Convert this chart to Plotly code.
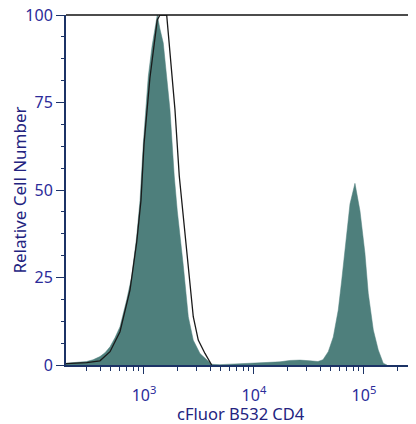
import plotly.graph_objects as go

# Stained sample (filled teal histogram)
stained_x = [195, 244, 301, 344, 398, 442, 491, 545, 605, 696, 773, 858, 920, 986,
             1094, 1183, 1285, 1321, 1397, 1497, 1722, 1884, 2008, 2147, 2277, 2528,
             2806, 3228, 3715, 4124, 4900, 7460, 9200, 11340, 17230, 21220, 26190,
             32300, 38180, 42370, 47330, 52590, 58360, 62660, 67140, 74600, 82800,
             92000, 102000, 109400, 121600, 134900, 149700, 161800]
stained_y = [0.5, 0.7, 1.0, 1.5, 2.4, 3.5, 5.2, 7.8, 10.9, 18.6, 25.2, 36.7, 47, 63.3,
             82.4, 91, 98.6, 100, 96, 92, 73, 54, 44, 36, 28.4, 13.8,
             7.1, 3.3, 1.4, 0.2, 0.1, 0.3, 0.6, 0.5, 0.9, 1.3, 1.4,
             1.2, 1.0, 1.5, 3.8, 8, 15.7, 24, 33.5, 46, 51.9,
             44, 32, 20.5, 10, 4.3, 0.5, 0]

# Control (black outline histogram)
control_x = [195, 301, 398, 491, 605, 746, 858, 939, 1000, 1132, 1321, 1397, 1608,
             1699, 1912, 2093, 2248, 2528, 2806, 3115, 3585, 4124]
control_y = [0.4, 0.7, 1.2, 3.8, 9.5, 21.4, 35, 47, 63, 82, 98.6, 100, 100,
             92, 73, 54, 44, 28.4, 13.8, 7.1, 3.3, 0]

x_tickvals = [1000, 10000, 100000]
x_ticktext = ["10<sup>3</sup>", "10<sup>4</sup>", "10<sup>5</sup>"]
x_minor = [300, 400, 500, 600, 700, 800, 900,
           2000, 3000, 4000, 5000, 6000, 7000, 8000, 9000,
           20000, 30000, 40000, 50000, 60000, 70000, 80000, 90000, 200000]
y_tickvals = [0, 25, 50, 75, 100]
x_title = "cFluor B532 CD4"
y_title = "Relative Cell Number"

NAVY = "#1c3366"
LABEL = "#2b2b9a"
TITLE = "#23237f"
FONT = "Noto Sans"

fig = go.Figure()
fig.add_trace(go.Scatter(x=stained_x, y=stained_y, mode="lines", fill="tozeroy",
                         fillcolor="#4e7f7c", line=dict(color="#4e7f7c", width=0.5),
                         hoverinfo="skip"))
fig.add_trace(go.Scatter(x=control_x, y=control_y, mode="lines",
                         line=dict(color="#1a1a1a", width=1.3), hoverinfo="skip"))

fig.update_layout(
    width=408, height=416,
    margin=dict(l=58, r=0, t=7, b=59),
    paper_bgcolor="white", plot_bgcolor="white",
    showlegend=False,
    font=dict(family=FONT),
    xaxis=dict(type="log", range=[2.291, 5.473], showgrid=False, zeroline=False,
               automargin=False,
               showline=True, linecolor=NAVY, linewidth=2,
               tickmode="array", tickvals=x_tickvals, ticktext=x_ticktext,
               ticks="outside", ticklen=7, tickwidth=1, tickcolor=NAVY,
               ticklabelstandoff=8,
               tickfont=dict(size=16, color=LABEL, family=FONT),
               minor=dict(tickmode="array", tickvals=x_minor, ticks="outside",
                          ticklen=4, tickwidth=1, tickcolor=NAVY, showgrid=False)),
    yaxis=dict(range=[0, 100], showgrid=False, zeroline=False,
               automargin=False,
               showline=True, linecolor=NAVY, linewidth=2,
               tickmode="array", tickvals=y_tickvals,
               ticks="outside", ticklen=8, tickwidth=1, tickcolor=NAVY,
               ticklabeloverflow="allow",
               tickfont=dict(size=16, color=LABEL, family=FONT),
               minor=dict(dtick=6.25, tick0=0, ticks="outside", ticklen=3,
                          tickwidth=1, tickcolor=NAVY, showgrid=False),
               title=dict(text=y_title, standoff=4,
                          font=dict(size=17, color=TITLE, family=FONT))),
    shapes=[dict(type="line", xref="paper", yref="paper", x0=0, x1=1, y0=1, y1=1,
                 line=dict(color="#111111", width=1.5))],
    annotations=[dict(text=x_title, xref="paper", yref="paper", x=0.5, y=-0.138,
                      xanchor="center", yanchor="middle", showarrow=False,
                      font=dict(size=16.5, color=TITLE, family=FONT))],
)

fig.write_html("out.html")
